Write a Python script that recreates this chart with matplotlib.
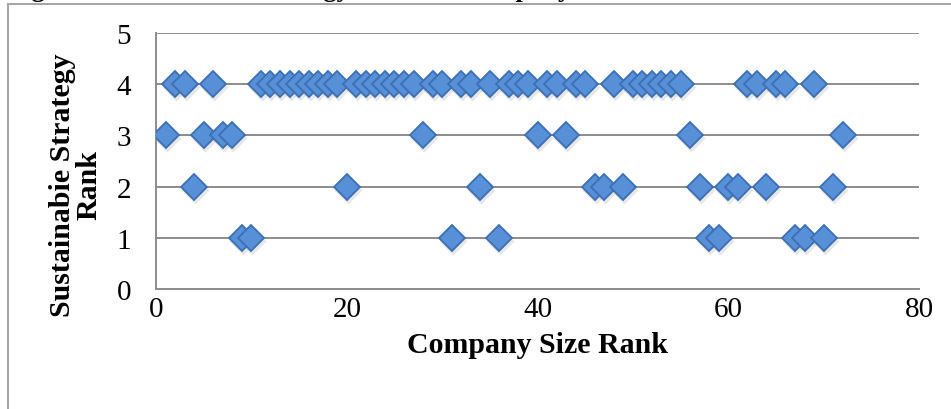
# Scatter: sustainable strategy rank vs company size rank
import matplotlib
matplotlib.use('Agg')
import matplotlib.pyplot as plt
import matplotlib.patches as patches
from matplotlib.transforms import offset_copy

# --- DATA (company size ranks grouped by strategy rank) ---
rank4_companies = [2, 3, 6, 11, 12, 13, 14, 15, 16, 17, 18, 19, 21, 22, 23, 24, 25, 26, 27,
                   29, 30, 32, 33, 35, 37, 38, 39, 41, 42, 44, 45, 48, 50, 51, 52, 53, 54, 55,
                   62, 63, 65, 66, 69]
rank3_companies = [1, 5, 7, 8, 28, 40, 43, 56, 72]
rank2_companies = [4, 20, 34, 46, 47, 49, 57, 60, 61, 64, 71]
rank1_companies = [9, 10, 31, 36, 58, 59, 67, 68, 70]

groups = [(4, rank4_companies), (3, rank3_companies), (2, rank2_companies), (1, rank1_companies)]
x_ticks = [0, 20, 40, 60, 80]
y_ticks = [0, 1, 2, 3, 4, 5]

SERIF = 'Liberation Serif'
GRID = '#8C8C8C'

fig = plt.figure(figsize=(9.51, 4.10), dpi=100)
ax = fig.add_axes([156 / 951, 1 - 290 / 410, 763 / 951, 256 / 410])

shadow = offset_copy(ax.transData, fig=fig, x=1, y=-3, units='dots')
for level, comps in groups:
    ys = [level] * len(comps)
    ax.plot(comps, ys, 'D', ms=14, color='#7f7f7f', alpha=0.18, mec='none',
            transform=shadow, zorder=2)
    ax.plot(comps, ys, 'D', ms=13, mfc='#5890D8', mec='#3B6FB6', mew=1.3, zorder=3)

ax.set_xlim(0, 80)
ax.set_ylim(0, 5)
ax.set_xticks(x_ticks)
ax.set_yticks(y_ticks)
ax.grid(axis='y', color=GRID, lw=1.4)
ax.set_axisbelow(True)
for s in ['top', 'right']:
    ax.spines[s].set_visible(False)
for s in ['left', 'bottom']:
    ax.spines[s].set_color(GRID)
    ax.spines[s].set_linewidth(1.4)
ax.tick_params(length=0, labelsize=21)
ax.tick_params(axis='y', pad=18)
ax.tick_params(axis='x', pad=5)
for lab in ax.get_xticklabels() + ax.get_yticklabels():
    lab.set_family(SERIF)

ax.set_xlabel('Company Size Rank', family=SERIF, fontsize=21.5, fontweight='bold')
ax.xaxis.set_label_coords(0.5, -0.165)
ax.set_ylabel('Sustainabie Strategy\nRank', family=SERIF, fontsize=21.5,
              fontweight='bold', linespacing=1.0)
ax.yaxis.set_label_coords(-0.07, 0.41)

# outer chart frame (clipped by the image on right and bottom)
frame = patches.Rectangle((7.5 / 951, -0.2), 1.2, 1.2 - 5 / 410, transform=fig.transFigure,
                          fill=False, ec='#A6A6A6', lw=1.5)
fig.add_artist(frame)

# caption sitting just above the image, only the descenders show
fig.text(8 / 951, 1 + 3 / 410, 'Figure 5: Sustainable Strategy Rank vs. Company Size Rank',
         family=SERIF, fontsize=19, fontweight='bold', va='baseline')

plt.savefig('out.png', dpi=100)
